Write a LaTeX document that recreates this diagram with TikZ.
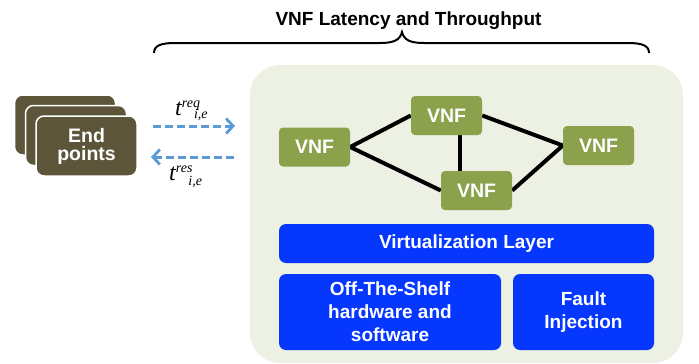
\documentclass[tikz,border=0pt]{standalone}
\usepackage{fontspec}
\setmainfont{Liberation Sans}
\newfontfamily\tnr{Liberation Serif}
\usetikzlibrary{arrows.meta}
\definecolor{panelbg}{HTML}{EDF1E3}
\definecolor{vnfgreen}{HTML}{8BA14C}
\definecolor{cardbrown}{HTML}{5D5539}
\definecolor{layerblue}{HTML}{0537FF}
\definecolor{flowblue}{HTML}{5B9BD5}
\pgfdeclarelayer{bg}
\pgfdeclarelayer{edges}
\pgfsetlayers{bg,edges,main}
\newcommand{\lblfont}{\tnr\itshape}
\begin{document}
\begin{tikzpicture}[x=1pt,y=-1pt,
  vnf/.style={fill=vnfgreen, rounded corners=4pt, minimum width=71pt, minimum height=39pt,
    text=white, font=\fontsize{19.5}{22}\selectfont\bfseries, inner sep=0pt},
  bluebox/.style={fill=layerblue, rounded corners=7pt, text=white, align=center,
    font=\fontsize{19}{23}\selectfont\bfseries, inner sep=0pt},
  card/.style={fill=cardbrown, draw=white, line width=1.5pt, rounded corners=8pt,
    minimum width=101pt, minimum height=60pt, inner sep=0pt},
  link/.style={line width=4pt},
  flow/.style={draw=flowblue, line width=3pt, dash pattern=on 8pt off 4pt,
    -{Straight Barb[length=7pt,width=15pt,line width=2.8pt]}},
  lbl/.style={inner sep=0pt, anchor=base west}
]
\useasboundingbox (0,0) rectangle (699,364);

% panel
\begin{pgfonlayer}{bg}
\fill[panelbg, rounded corners=30pt] (250,65) rectangle (683,363);
\end{pgfonlayer}

% title and brace
\node[inner sep=0pt, anchor=base, font=\fontsize{19}{22}\selectfont\bfseries] (title) at (408.5,25) {VNF Latency and Throughput};
\draw[line width=2pt] (154,53) .. controls (154,46) and (160,43) .. (175,43) -- (380,43)
  .. controls (394,43) and (400,40) .. (402,32) .. controls (404,40) and (410,43) .. (424,43)
  -- (628,43) .. controls (643,43) and (649,46) .. (649,53);

% VNFs
\node[vnf] (v1) at (314.5,147) {VNF};
\node[vnf] (v2) at (446.5,115.5) {VNF};
\node[vnf] (v3) at (598.5,145.5) {VNF};
\node[vnf] (v4) at (476.5,190.5) {VNF};
\begin{pgfonlayer}{edges}
\draw[link] (v1.east) -- (v2.west);
\draw[link] (v1.east) -- (v4.west);
\draw[link] (v2.east) -- (v3.west);
\draw[link] (v4.east) -- (v3.west);
\draw[link] ([xshift=13.5pt]v2.south) -- ([xshift=-16.5pt]v4.north);
\end{pgfonlayer}

% layers
\node[bluebox, minimum width=375pt, minimum height=39pt] (virt) at (466.5,243.5) {Virtualization Layer};
\node[bluebox, minimum width=222pt, minimum height=76pt] (ots) at (390,312) {Off-The-Shelf\\hardware and\\software};
\node[bluebox, minimum width=141pt, minimum height=76pt] (fi) at (583.5,312) {Fault\\Injection};

% end points
\node[card] (c1) at (65,125) {};
\node[card] (c2) at (76,135.5) {};
\node[card, text=white, align=center, font=\fontsize{19.5}{18}\selectfont\bfseries] (c3) at (86.5,146) {End\\points};

% flows
\coordinate (reqs) at (153,126);
\coordinate (reqe) at (235,126);
\coordinate (ress) at (234,157);
\coordinate (rese) at (151,157);
\draw[flow] (reqs) -- (reqe);
\draw[flow] (ress) -- (rese);

\node[lbl] (treq) at (175,115) {{\lblfont\fontsize{24}{24}\selectfont t}\raisebox{8pt}{\lblfont\fontsize{14}{14}\selectfont req}\hspace{-6pt}\raisebox{-3pt}{\lblfont\fontsize{14}{14}\selectfont i,e}};
\node[lbl] (tres) at (169,180) {{\lblfont\fontsize{24}{24}\selectfont t}\raisebox{8pt}{\lblfont\fontsize{14}{14}\selectfont res}\hspace{-4pt}\raisebox{-5pt}{\lblfont\fontsize{14}{14}\selectfont i,e}};
\end{tikzpicture}
\end{document}
